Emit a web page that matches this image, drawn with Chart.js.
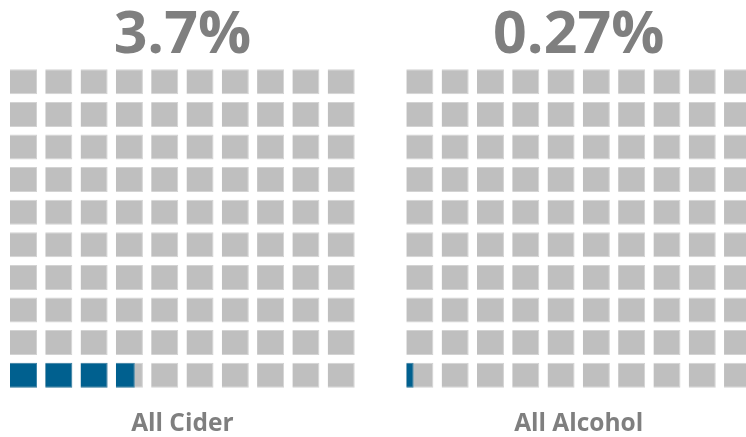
<!DOCTYPE html>
<html>
<head>
<meta charset="utf-8">
<script src="https://cdn.jsdelivr.net/npm/chart.js@4.4.1/dist/chart.umd.min.js"></script>
<style>
  html, body { margin: 0; padding: 0; background: #fff; overflow: hidden; }
  #wrap { position: relative; width: 746px; height: 437px; overflow: hidden; }
  canvas { position: absolute; top: 0; }
</style>
</head>
<body>
<div id="wrap">
  <canvas id="cider" width="373" height="437" style="left:0"></canvas>
  <canvas id="alcohol" width="360" height="437" style="left:400px"></canvas>
</div>
<script>
// share of drinkers, one waffle (10 x 10 cells = 100%) per group
const groups = ['All Cider', 'All Alcohol'];
const shares = [3.7, 0.27];
const shareLabels = ['3.7%', '0.27%'];
const rows = ['1', '2', '3', '4', '5', '6', '7', '8', '9', '10'];
const cols = [0, 1, 2, 3, 4, 5, 6, 7, 8, 9];

const FILL = 0.766;            // part of each grid step taken by a cell
const GAP = (1 - FILL) / 2;
const GREY = '#bfbfbf';
const GREY_EDGE = '#d3d3d3';
const BLUE = '#00608f';
const BLUE_EDGE = '#3f87ab';
const TEXT = '#7f7f7f';
const FONT = '"Open Sans", sans-serif';

// cells are counted from the bottom-left, left to right, row by row
function cellFill(share, row, col) {
  const k = row * 10 + col;
  return Math.max(0, Math.min(1, share - k));
}

function makeWaffle(id, i, pad) {
  const share = shares[i];
  const blue = cols.map(c => ({
    data: rows.map((r, ri) => {
      const f = cellFill(share, ri, c);
      return f > 0 ? [c + GAP, c + GAP + f * FILL] : null;
    }),
    backgroundColor: BLUE,
    borderColor: BLUE_EDGE
  }));
  const grey = cols.map(c => ({
    data: rows.map(() => [c + GAP, c + 1 - GAP]),
    backgroundColor: GREY,
    borderColor: GREY_EDGE
  }));

  new Chart(document.getElementById(id), {
    type: 'bar',
    data: { labels: rows, datasets: blue.concat(grey) },
    options: {
      indexAxis: 'y',
      responsive: false,
      animation: false,
      datasets: {
        bar: { grouped: false, barPercentage: FILL, categoryPercentage: 1, borderWidth: 1 }
      },
      layout: { padding: pad },
      scales: {
        x: { type: 'linear', min: 0, max: 10, display: false },
        y: { reverse: true, display: false }
      },
      plugins: {
        legend: { display: false },
        tooltip: { enabled: false },
        title: {
          display: true,
          text: shareLabels[i],
          color: TEXT,
          font: { family: FONT, size: 59, weight: 'bold', lineHeight: 1 },
          padding: { top: 6.5, bottom: 0 }
        },
        subtitle: {
          display: true,
          position: 'bottom',
          text: groups[i],
          color: TEXT,
          font: { family: FONT, size: 24.5, weight: 'bold', lineHeight: 1 },
          padding: { top: 20.25, bottom: 0.75 }
        }
      }
    }
  });
}

makeWaffle('cider', 0, { left: 5.85, right: 14.15, top: 0, bottom: 0 });
makeWaffle('alcohol', 1, { left: 2.2, right: 4.8, top: 0, bottom: 0 });
</script>
</body>
</html>
